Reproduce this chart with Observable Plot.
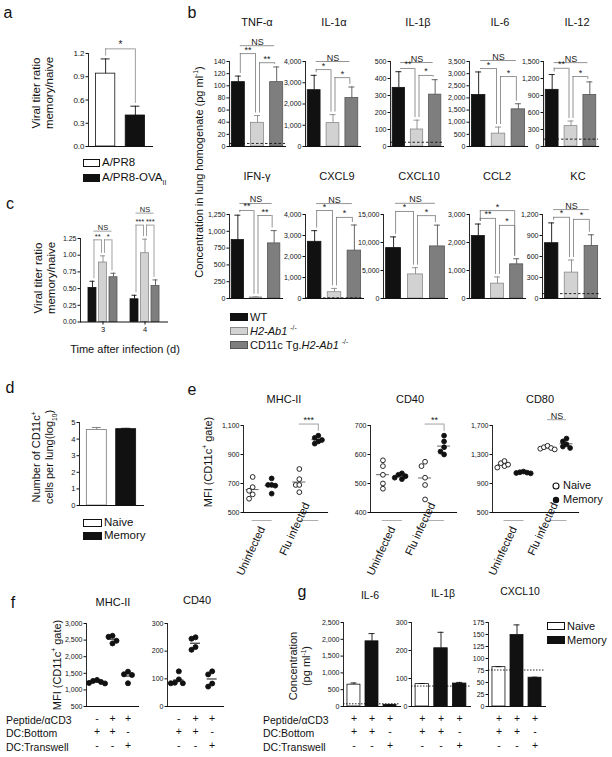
<!DOCTYPE html>
<html><head><meta charset="utf-8">
<script src="https://cdn.jsdelivr.net/npm/d3@7"></script>
<script src="https://cdn.jsdelivr.net/npm/@observablehq/plot@0.6"></script>
<style>
body{margin:0;background:#fff}
#fig{position:relative;width:612px;height:757px;overflow:hidden;background:#fff;font-family:"Liberation Sans",Arial,sans-serif;color:#111}
.t{position:absolute;white-space:nowrap;line-height:1}
.yl{position:absolute;white-space:nowrap;text-align:center;line-height:1.15;transform:translate(-50%,-50%) rotate(-90deg)}
sup,sub{font-size:0.6em;line-height:0}
</style></head><body><div id="fig"></div>
<script>
// ================= DATA =================
// a
const aStrains = ["A/PR8", "A/PR8-OVA_II"];
const aRatio = [0.94, 0.40];
const aRatioErr = [1.13, 0.52];
const aTicks = [0, 0.3, 0.6, 0.9, 1.2];
const aSig = [["A/PR8", "A/PR8-OVA_II", 1.26, "*"]];
// b
const bGenotypes = ["WT", "H2-Ab1-/-", "CD11c Tg.H2-Ab1-/-"];
const bAnalytes = ["TNF-α", "IL-1α", "IL-1β", "IL-6", "IL-12", "IFN-γ", "CXCL9", "CXCL10", "CCL2", "KC"];
const bMean = [[106,39,106],[2650,1100,2280],[345,100,305],[2120,530,1530],[1000,360,910],[870,15,820],[2700,300,2280],[9000,4300,9300],[2230,530,1220],[790,370,750]];
const bErr = [[116,51,131],[3350,1500,2800],[440,155,393],[3070,800,1760],[1270,450,1140],[1240,25,1010],[3230,480,3500],[11000,5500,13100],[2660,770,1420],[1080,550,910]];
const bTickMax = [140,4000,500,3500,1500,1250,4000,15000,3000,1200];
const bTickStep = [20,1000,100,500,300,250,1000,5000,1000,300];
const bDetection = [5,null,25,null,130,null,30,null,null,70];
const bSig = [
 [[0,1,153,"**"],[1,2,138,"**"],[0,2,166,"NS"]],
 [[0,1,3620,"*"],[1,2,3240,"*"],[0,2,4000,"NS"]],
 [[0,1,459,"**"],[1,2,418,"*"],[0,2,494,"NS"]],
 [[0,1,3210,"*"],[1,2,2880,"*"],[0,2,3540,"NS"]],
 [[0,1,1380,"**"],[1,2,1235,"*"],[0,2,1480,"NS"]],
 [[0,1,1310,"**"],[1,2,1235,"**"],[0,2,1414,"NS"]],
 [[0,1,4190,"*"],[1,2,3860,"*"],[0,2,4520,"NS"]],
 [[0,1,15540,"*"],[1,2,14800,"*"],[0,2,17000,"NS"]],
 [[0,1,2860,"**"],[1,2,2610,"*"],[0,2,3140,"*"]],
 [[0,1,1160,"*"],[1,2,1130,"*"],[0,2,1270,"NS"]]
];
// c
const cDays = ["3", "4"];
const cRatio = [[0.51,0.89,0.67],[0.34,1.03,0.54]];
const cRatioErr = [[0.61,0.99,0.73],[0.40,1.24,0.63]];
const cTicks = [0, 0.25, 0.5, 0.75, 1, 1.25];
const cSig = [["3",0,1,1.23,"**"],["3",1,2,1.23,"*"],["3",0,2,1.36,"NS"],["4",0,1,1.45,"***"],["4",1,2,1.45,"***"],["4",0,2,1.63,"NS"]];
// d
const dGroups = ["Naive", "Memory"];
const dCount = [4.55, 4.60];
const dCountErr = [4.70, 4.65];
const dTicks = [0, 1, 2, 3, 4, 5];
// e  (groups: uninfected naive, uninfected memory, flu naive, flu memory)
const eConditions = ["Uninfected", "Flu infected"];
const eStatus = ["Naive", "Memory"];
const eMHCII = [[745,675,650,625,595],[735,690,690,685,630],[800,730,690,690,640],[1030,1015,1000,990,975]];
const eCD40 = [[580,560,530,500,482],[535,530,525,520,515],[575,560,520,495,445],[665,645,625,610,600]];
const eCD80 = [[1210,1180,1160,1140,1120],[1065,1055,1050,1045,1040],[1420,1400,1390,1380,1370],[1520,1480,1440,1410,1390]];
const eMHCIITicks = [500, 700, 900, 1100];
const eCD40Ticks = [400, 500, 600, 700];
const eCD80Ticks = [500, 900, 1300, 1700];
const eSigLabel = ["***", "**", "NS"];
const eSigHeight = [1110, 705, 1780];
// f
const fConditions = ["none", "peptide", "transwell"];
const fPeptide = ["-", "+", "+"];
const fBottom = ["+", "+", "-"];
const fTranswell = ["-", "-", "+"];
const fMHCII = [[1300,1270,1240,1210,1195],[2630,2600,2480,2400],[1550,1470,1450,1200]];
const fCD40 = [[127,98,86,84,84],[250,245,215,205],[127,116,83,72]];
const fMHCIITicks = [500, 1000, 1500, 2000, 2500, 3000];
const fCD40Ticks = [0, 100, 200, 300];
// g
const gConditions = ["naive", "memory", "memory-transwell"];
const gCells = ["Naive", "Memory", "Memory"];
const gPeptide = ["+", "+", "+"];
const gBottom = ["+", "+", "-"];
const gTranswell = ["-", "-", "+"];
const gIL6 = [650, 1940, 50];
const gIL6Err = [700, 2170, 55];
const gIL1b = [80, 208, 82];
const gIL1bErr = [82, 265, 86];
const gCXCL10 = [82, 149, 60];
const gCXCL10Err = [83, 170, 61];
const gDetection = [80, 73, 76];
const gIL6Ticks = [0, 500, 1000, 1500, 2000, 2500];
const gIL1bTicks = [0, 100, 200, 300];
const gCXCL10Ticks = [0, 25, 50, 75, 100, 125, 150, 175];

// ================= HELPERS =================
const fig = document.getElementById("fig");
const FONT = "'Liberation Sans', Arial, sans-serif";
const BLACK = "#111", LIGHT = "#d2d2d2", DARK = "#7e7e7e";
const gFill = [BLACK, LIGHT, DARK], gStroke = [BLACK, "#8a8a8a", "#555"];
const comma = d3.format(",");

function txt(html, x, y, size, anchor = "middle", style = "") {
  const el = document.createElement("div");
  el.className = "t"; el.innerHTML = html;
  el.style.cssText += `left:${x}px;top:${y}px;font-size:${size}px;` + style;
  const tx = anchor === "middle" ? "-50%" : anchor === "end" ? "-100%" : "0";
  el.style.transform = `translate(${tx},-50%)`;
  fig.append(el); return el;
}
function ylab(html, x, y, size) {
  const el = document.createElement("div");
  el.className = "yl"; el.innerHTML = html;
  el.style.cssText += `left:${x}px;top:${y}px;font-size:${size}px;`;
  fig.append(el);
}
function swatch(x, y, fill, stroke, w = 18, h = 8) {
  const el = document.createElement("div");
  el.style.cssText = `position:absolute;left:${x}px;top:${y - h / 2}px;width:${w}px;height:${h}px;background:${fill};border:1px solid ${stroke};box-sizing:border-box`;
  fig.append(el);
}
function place(svg, left, top) {
  svg.style.position = "absolute"; svg.style.left = left + "px"; svg.style.top = top + "px";
  svg.style.overflow = "visible"; svg.style.background = "none"; svg.style.maxWidth = "none";
  fig.append(svg);
}
function sigMarks(sig, cats, step, bw, errOf, gap, s, color, fs) {
  const rows = sig.map(([a, b, h, label]) => ({a, b, h, label, k: cats.indexOf(b) - cats.indexOf(a),
    ya: Math.min(h, errOf[a] + gap), yb: Math.min(h, errOf[b] + gap)}));
  const legs = rows.filter(r => r.label !== "NS");
  const m = [
    Plot.ruleY(rows, {y: "h", x1: "a", x2: "b", insetLeft: bw / 2 + s, insetRight: bw / 2 + s, stroke: color, strokeWidth: 0.8}),
    Plot.ruleX(legs, {x: "a", y1: "h", y2: "ya", dx: s, stroke: color, strokeWidth: 0.8}),
    Plot.ruleX(legs, {x: "b", y1: "h", y2: "yb", dx: -s, stroke: color, strokeWidth: 0.8})
  ];
  for (const k of new Set(rows.map(r => r.k)))
    m.push(Plot.text(rows.filter(r => r.k === k), {x: "a", y: "h", text: "label", dx: k * step / 2, dy: -1, lineAnchor: "bottom", fontSize: fs, fill: "#222"}));
  return m;
}
function axes(o) {
  return [
    Plot.frame({anchor: "left", stroke: BLACK, strokeWidth: 0.9}),
    Plot.frame({anchor: "bottom", stroke: BLACK, strokeWidth: 1.1}),
    Plot.axisY({ticks: o.ticks, tickFormat: o.fmt, tickSize: 2.5, tickPadding: 1.5, fontSize: o.fs, stroke: BLACK, label: null})
  ];
}
function barPlot(o) {
  const ML = 36, MR = 8, MT = 36, MB = o.MB ?? 8;
  const W = o.x1 - o.x0, H = o.yB - o.yT, cats = o.cats, n = cats.length;
  const step = W / (n - o.pi + 2 * o.po), bw = step * (1 - o.pi);
  const rows = o.rows;
  const errOf = {}; rows.forEach(r => errOf[r.c] = Math.max(r.v, r.e ?? r.v));
  const gap = o.yMax * 0.03;
  const eb = rows.filter(r => r.e > r.v);
  const marks = [
    Plot.barY(rows, {x: "c", y: "v", fill: "f", stroke: "s", strokeWidth: 0.8}),
    Plot.ruleX(eb, {x: "c", y1: "v", y2: "e", stroke: "s", strokeWidth: 0.9}),
    Plot.tickY(eb, {x: "c", y: "e", stroke: "s", strokeWidth: 0.9, insetLeft: (bw - o.cap) / 2, insetRight: (bw - o.cap) / 2})
  ];
  if (o.lod != null) marks.push(Plot.ruleY([o.lod], {stroke: BLACK, strokeWidth: 0.9, strokeDasharray: o.dash || "2.5,2"}));
  marks.push(...axes(o));
  if (o.sig) marks.push(...sigMarks(o.sig, cats, step, bw, errOf, gap, o.s ?? 2, o.sigColor || "#777", o.sigFs || 9));
  if (o.extra) marks.push(...o.extra(step, bw));
  const svg = Plot.plot({
    width: ML + W + MR, height: MT + H + MB,
    marginLeft: ML, marginRight: MR, marginTop: MT, marginBottom: MB,
    x: {type: "band", domain: cats, paddingInner: o.pi, paddingOuter: o.po, round: false, axis: null, label: null},
    y: {domain: [0, o.yMax], axis: null, label: null},
    color: {type: "identity"},
    style: {fontFamily: FONT, fontSize: o.fs + "px", color: "#111", background: "none", overflow: "visible"},
    marks
  });
  place(svg, o.x0 - ML, o.yT - MT);
}
function dotPlot(o) {
  const ML = 36, MR = 8, MT = 30, MB = o.MB ?? 70;
  const W = o.x1 - o.x0, H = o.yB - o.yT, cats = o.cats, n = cats.length;
  const step = W / (n - o.pi + 2 * o.po), bw = step * (1 - o.pi);
  const k = H / (o.yMax - o.yMin);
  const marks = [...axes(o)];
  for (const g of o.groups) {
    const pts = g.vals.map(v => ({c: g.c, v})).sort((a, b) => b.v - a.v);
    const placed = [];
    for (const p of pts) {
      for (const off of [0, -1, 1, -2, 2]) {
        if (!placed.some(q => q.off === off && Math.abs(q.v - p.v) * k < 2 * o.r)) { p.off = off; break; }
      }
      placed.push(p);
    }
    marks.push(Plot.tickY(pts, Plot.groupX({y: "mean"}, {x: "c", y: "v", stroke: o.meanStroke || "#555", strokeWidth: 1, dx: g.dx || 0, insetLeft: (bw - o.meanW) / 2, insetRight: (bw - o.meanW) / 2})));
    for (const off of [-2, -1, 0, 1, 2]) {
      const sub = pts.filter(p => p.off === off);
      if (sub.length) marks.push(Plot.dot(sub, {x: "c", y: "v", r: o.r, fill: g.fill, stroke: BLACK, strokeWidth: 0.9, dx: (g.dx || 0) + off * o.d}));
    }
  }
  if (o.extra) marks.push(...o.extra(step, bw));
  const svg = Plot.plot({
    width: ML + W + MR, height: MT + H + MB,
    marginLeft: ML, marginRight: MR, marginTop: MT, marginBottom: MB,
    x: {type: "band", domain: cats, paddingInner: o.pi, paddingOuter: o.po, round: false, axis: null, label: null},
    y: {domain: [o.yMin, o.yMax], axis: null, label: null},
    style: {fontFamily: FONT, fontSize: o.fs + "px", color: "#111", background: "none", overflow: "visible"},
    marks
  });
  place(svg, o.x0 - ML, o.yT - MT);
}
function tableAxes(cats, rowsOfSymbols, fs) {
  const pads = [8, 21, 35];
  return rowsOfSymbols.map((sym, r) => Plot.axisX({ticks: cats, tickSize: 0, tickPadding: pads[r], fontSize: fs, label: null, tickFormat: d => sym[cats.indexOf(d)]}));
}

// ================= PANEL LETTERS =================
[["a", 8, 13], ["b", 192, 13], ["c", 10, 204], ["d", 10, 388], ["e", 192, 390], ["f", 13, 603], ["g", 302, 592]]
  .forEach(([l, x, y]) => txt(l, x, y, 16));

// ================= PANEL a =================
barPlot({cats: aStrains, rows: aStrains.map((c, i) => ({c, v: aRatio[i], e: aRatioErr[i], f: i ? BLACK : "#fff", s: BLACK})),
  x0: 88, x1: 152, yT: 53, yB: 146, yMax: 1.2, ticks: aTicks, fmt: d3.format(".1f"), pi: 0.35, po: 0.25, cap: 9, fs: 8,
  sig: aSig, s: 0, sigColor: "#888", sigFs: 10});
ylab("Viral titer ratio<br>memory/naive", 43, 93, 11.5);
swatch(83, 163, "#fff", BLACK, 17, 8); txt("A/PR8", 102, 163, 11.5, "start");
swatch(83, 178, BLACK, BLACK, 17, 8); txt("A/PR8-OVA<sub>II</sub>", 102, 178, 11.5, "start");

// ================= PANEL b =================
const bLayout = [
  {x0: 229, x1: 285, yT: 61, yB: 146, tx: 257, ty: 22}, {x0: 305, x1: 360, yT: 61, yB: 146, tx: 334, ty: 22},
  {x0: 390, x1: 443, yT: 61, yB: 146, tx: 418, ty: 22}, {x0: 469, x1: 527, yT: 61, yB: 146, tx: 500, ty: 22},
  {x0: 543, x1: 598, yT: 61, yB: 146, tx: 577, ty: 22},
  {x0: 229, x1: 282, yT: 214, yB: 298, tx: 257, ty: 176}, {x0: 305, x1: 363, yT: 214, yB: 298, tx: 337, ty: 176},
  {x0: 383, x1: 447, yT: 214, yB: 298, tx: 419, ty: 176}, {x0: 469, x1: 525, yT: 214, yB: 298, tx: 497, ty: 176},
  {x0: 542, x1: 600, yT: 214, yB: 298, tx: 578, ty: 176}
];
bAnalytes.forEach((name, k) => {
  const L = bLayout[k];
  barPlot({cats: bGenotypes, rows: bGenotypes.map((c, i) => ({c, v: bMean[k][i], e: bErr[k][i], f: gFill[i], s: gStroke[i]})),
    ...L, yMax: bTickMax[k], ticks: d3.range(0, bTickMax[k] + 1, bTickStep[k]), fmt: comma, pi: 0.32, po: 0.12, cap: 6, fs: 7,
    lod: bDetection[k], sig: bSig[k].map(([i, j, h, l]) => [bGenotypes[i], bGenotypes[j], h, l]), s: 2, sigColor: "#777", sigFs: 9});
  txt(name, L.tx, L.ty, 11);
});
ylab("Concentration in lung homogenate (pg ml<sup>-1</sup>)", 199, 172, 11);
swatch(230, 317, BLACK, BLACK); txt("WT", 250, 317, 11, "start");
swatch(230, 331, LIGHT, "#888"); txt("<i>H2-Ab1</i> <sup>-/-</sup>", 250, 331, 11, "start");
swatch(230, 345, DARK, "#555"); txt("CD11c Tg.<i>H2-Ab1</i> <sup>-/-</sup>", 250, 345, 11, "start");

// ================= PANEL c =================
const cCats = [];
cDays.forEach((d, k) => { bGenotypes.forEach(g => cCats.push(d + "|" + g)); if (k < cDays.length - 1) cCats.push("gap"); });
barPlot({cats: cCats,
  rows: cDays.flatMap((d, k) => bGenotypes.map((g, i) => ({c: d + "|" + g, v: cRatio[k][i], e: cRatioErr[k][i], f: gFill[i], s: gStroke[i]}))),
  x0: 80, x1: 167, yT: 237.5, yB: 321, yMax: 1.25, ticks: cTicks, fmt: d3.format(".2f"), pi: 0.24, po: 0.76, cap: 5, fs: 7, MB: 20,
  sig: cSig.map(([d, i, j, h, l]) => [d + "|" + bGenotypes[i], d + "|" + bGenotypes[j], h, l]), s: 1.5, sigColor: "#888", sigFs: 7.5,
  extra: () => [Plot.axisX({ticks: cDays.map(d => d + "|" + bGenotypes[1]), tickFormat: d => d.split("|")[0], tickSize: 3, tickPadding: 2, fontSize: 7.5, label: null})]});
ylab("Viral titer ratio<br>memory/naive", 45, 278, 11.5);
txt("Time after infection (d)", 125, 349, 11);

// ================= PANEL d =================
barPlot({cats: dGroups, rows: dGroups.map((c, i) => ({c, v: dCount[i], e: dCountErr[i], f: i ? BLACK : "#fff", s: i ? BLACK : "#777"})),
  x0: 79, x1: 143, yT: 422, yB: 505, yMax: 5, ticks: dTicks, fmt: d3.format("d"), pi: 0.32, po: 0.25, cap: 9, fs: 7.5});
ylab("Number of CD11c<sup>+</sup><br>cells per lung(log<sub>10</sub>)", 43, 457, 11);
swatch(83, 523, "#fff", BLACK, 19, 8); txt("Naive", 104, 523, 11.5, "start");
swatch(83, 536, BLACK, BLACK, 19, 8); txt("Memory", 104, 536, 11.5, "start");

// ================= PANEL e =================
const eLayout = [
  {name: "MHC-II", vals: eMHCII, ticks: eMHCIITicks, x0: 243, x1: 327, pi: 0.5, po: 0.15, tx: 284},
  {name: "CD40", vals: eCD40, ticks: eCD40Ticks, x0: 370, x1: 456, pi: 0.5, po: 0.27, tx: 410},
  {name: "CD80", vals: eCD80, ticks: eCD80Ticks, x0: 492, x1: 578, pi: 0.5, po: 0.25, tx: 540}
];
eLayout.forEach((L, m) => {
  const yMin = L.ticks[0], yMax = L.ticks[L.ticks.length - 1];
  const groups = [];
  eConditions.forEach((c, ci) => eStatus.forEach((st, si) => groups.push({c, vals: L.vals[ci * 2 + si], fill: si ? BLACK : "#fff", dx: si ? 9.5 : -9.5})));
  const sig = [{c: eConditions[1], h: eSigHeight[m], label: eSigLabel[m], top: d3.max(L.vals[3])}];
  dotPlot({cats: eConditions, groups, yMin, yMax, ticks: L.ticks, fmt: comma, x0: L.x0, x1: L.x1, yT: 425, yB: 512, pi: L.pi, po: L.po,
    r: 2.4, d: 3.6, meanW: 13, meanStroke: "#666", fs: 7,
    extra: (step, bw) => [
      Plot.tickY(eConditions, {x: d => d, y: () => yMin, dy: 8, stroke: "#999", strokeWidth: 0.8, insetLeft: (bw - 20) / 2, insetRight: (bw - 20) / 2}),
      Plot.text([eConditions[0]], {x: d => d, frameAnchor: "bottom", text: d => d, rotate: -65, dx: -8, dy: 40, fontSize: 11}),
      Plot.text([eConditions[1]], {x: d => d, frameAnchor: "bottom", text: d => d, rotate: -65, dx: -11, dy: 18, fontSize: 11}),
      Plot.ruleY(sig, {x1: "c", x2: "c", y: "h", insetLeft: bw / 2 - 9.5, insetRight: bw / 2 - 9.5, stroke: "#888", strokeWidth: 0.8}),
      Plot.ruleX(sig.filter(d => d.label !== "NS"), {x: "c", y1: "h", y2: d => Math.min(d.h, d.top + (yMax - yMin) * 0.05), dx: 9.5, stroke: "#888", strokeWidth: 0.8}),
      Plot.text(sig, {x: "c", y: "h", text: "label", dy: -1, lineAnchor: "bottom", fontSize: 9, fill: "#222"})
    ]});
  txt(L.name, L.tx, 399, 11);
});
ylab("MFI (CD11c<sup>+</sup> gate)", 208, 462, 11);
txt('<svg width="9" height="9" style="vertical-align:middle"><circle cx="4.5" cy="4.5" r="3" fill="#fff" stroke="#111" stroke-width="1.1"/></svg>', 556, 485, 11);
txt("Naive", 563, 485, 11, "start");
txt('<svg width="9" height="9" style="vertical-align:middle"><circle cx="4.5" cy="4.5" r="3.2" fill="#111"/></svg>', 556, 499, 11);
txt("Memory", 563, 499, 11, "start");

// ================= PANEL f =================
const fLayout = [
  {name: "MHC-II", vals: fMHCII, ticks: fMHCIITicks, x0: 86, x1: 138, tx: 113, ty: 602},
  {name: "CD40", vals: fCD40, ticks: fCD40Ticks, x0: 167, x1: 223, tx: 197, ty: 600}
];
fLayout.forEach(L => {
  const yMin = L.ticks[0], yMax = L.ticks[L.ticks.length - 1];
  dotPlot({cats: fConditions, groups: fConditions.map((c, i) => ({c, vals: L.vals[i], fill: BLACK})),
    yMin, yMax, ticks: L.ticks, fmt: comma, x0: L.x0, x1: L.x1, yT: 623, yB: 706, pi: 0, po: 0.18,
    r: 2.5, d: 4, meanW: 10, meanStroke: BLACK, fs: 7, MB: 50,
    extra: () => tableAxes(fConditions, [fPeptide, fBottom, fTranswell], 10.5)});
  txt(L.name, L.tx, L.ty, 11);
});
ylab("MFI (CD11c<sup>+</sup> gate)", 57, 665, 11);
txt("Peptide/αCD3", 6, 720, 10.5, "start");
txt("DC:Bottom", 6, 733, 10.5, "start");
txt("DC:Transwell", 6, 747, 10.5, "start");

// ================= PANEL g =================
const gLayout = [
  {name: "IL-6", vals: gIL6, errs: gIL6Err, ticks: gIL6Ticks, x0: 343, x1: 400, tx: 370, ty: 595},
  {name: "IL-1β", vals: gIL1b, errs: gIL1bErr, ticks: gIL1bTicks, x0: 411, x1: 470, tx: 443, ty: 593},
  {name: "CXCL10", vals: gCXCL10, errs: gCXCL10Err, ticks: gCXCL10Ticks, x0: 488, x1: 545, tx: 520, ty: 591}
];
gLayout.forEach((L, k) => {
  barPlot({cats: gConditions, rows: gConditions.map((c, i) => ({c, v: L.vals[i], e: L.errs[i], f: gCells[i] === "Naive" ? "#fff" : BLACK, s: BLACK})),
    x0: L.x0, x1: L.x1, yT: 622, yB: 706, yMax: L.ticks[L.ticks.length - 1], ticks: L.ticks, fmt: comma, pi: 0.28, po: 0.22, cap: 6, fs: 7,
    lod: gDetection[k], dash: "1.5,1.5", MB: 50,
    extra: () => tableAxes(gConditions, [gPeptide, gBottom, gTranswell], 10.5)});
  txt(L.name, L.tx, L.ty, 10.5);
});
ylab("Concentration<br>(pg ml<sup>-1</sup>)", 300, 666, 11);
txt("Peptide/αCD3", 263, 720, 10.5, "start");
txt("DC:Bottom", 263, 733, 10.5, "start");
txt("DC:Transwell", 263, 747, 10.5, "start");
swatch(547, 626, "#fff", BLACK, 18, 8); txt("Naive", 567, 626, 11, "start");
swatch(547, 640, BLACK, BLACK, 18, 8); txt("Memory", 567, 640, 11, "start");
</script></body></html>
